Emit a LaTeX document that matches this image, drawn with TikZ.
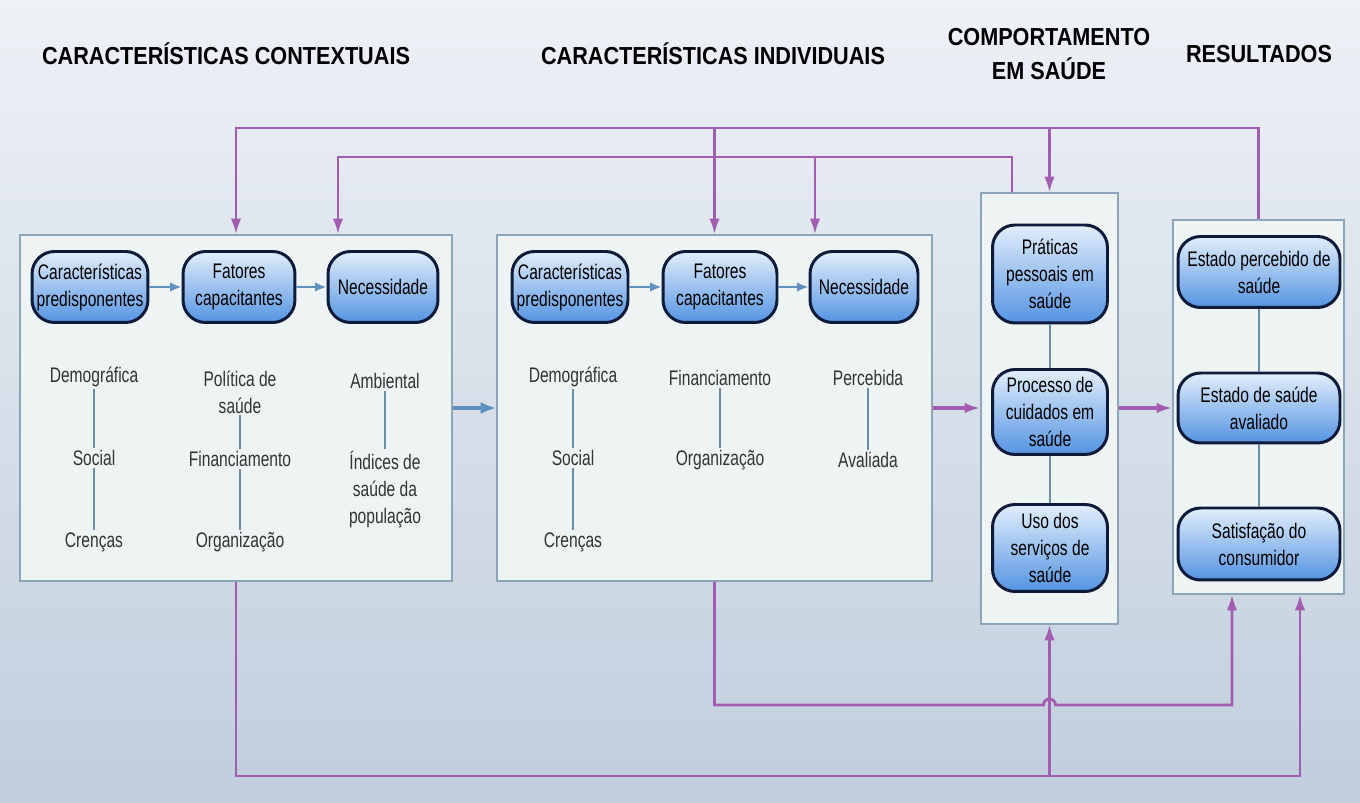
\documentclass[tikz,border=0pt]{standalone}
\usepackage{fontspec}
\setmainfont{Liberation Sans}
\newfontfamily\narrowfont[FakeStretch=0.74]{Liberation Sans}
\newfontfamily\headfont[FakeStretch=0.88]{Liberation Sans}
\usepackage{tikz}
\usetikzlibrary{positioning, arrows.meta}
\usepackage{xcolor}

\definecolor{bgtop}{RGB}{238,241,246}
\definecolor{bgbottom}{RGB}{192,206,221}
\definecolor{panelfill}{RGB}{238,244,244}
\definecolor{paneledge}{RGB}{140,165,185}
\definecolor{pilledge}{RGB}{14,26,58}
\definecolor{pilltop}{RGB}{226,238,251}
\definecolor{pillbottom}{RGB}{84,148,226}
\definecolor{flowblue}{RGB}{96,145,190}
\definecolor{linkline}{RGB}{110,140,165}
\definecolor{fbpurple}{RGB}{162,92,176}

\tikzset{
  panel/.style={draw=paneledge, fill=panelfill, line width=0.8pt, inner sep=0pt},
  pill/.style={draw=pilledge, line width=1.7pt, rounded corners=0.45cm,
    top color=pilltop, bottom color=pillbottom, align=center, inner sep=1pt,
    font=\narrowfont\fontsize{12}{15.4}\selectfont},
  item/.style={align=center, inner sep=1pt, text=black!80,
    font=\narrowfont\fontsize{12}{15.4}\selectfont},
  head/.style={align=center, font=\headfont\bfseries\fontsize{14}{19}\selectfont},
  flow/.style={draw=flowblue, line width=1.3pt, -{Latex[length=6.5pt, width=5.5pt]}},
  link/.style={draw=linkline, line width=0.6pt},
  fbarrow/.style={draw=fbpurple, line width=1.6pt, -{Latex[length=9pt, width=6pt]}}
}

\begin{document}
\begin{tikzpicture}[x=0.02cm, y=-0.02cm]
    \useasboundingbox (0,0) rectangle (1360,803);
    \fill[top color=bgtop, bottom color=bgbottom] (0,0) rectangle (1360,803);

    % headings
    \node[head] (h1) at (226,54) {CARACTERÍSTICAS CONTEXTUAIS};
    \node[head] (h2) at (713,54) {CARACTERÍSTICAS INDIVIDUAIS};
    \node[head] (h3) at (1049,54) {COMPORTAMENTO\\EM SAÚDE};
    \node[head] (h4) at (1259,54) {RESULTADOS};

    % panels
    \node[panel, minimum width=8.64cm, minimum height=6.92cm] (ctx) at (236,408) {};
    \node[panel, minimum width=8.7cm, minimum height=6.92cm] (ind) at (714.5,408) {};
    \node[panel, minimum width=2.74cm, minimum height=8.62cm] (cmp) at (1049.5,408.5) {};
    \node[panel, minimum width=3.42cm, minimum height=7.48cm] (res) at (1258.5,407) {};

    % contextual
    \node[pill, minimum width=2.32cm, minimum height=1.42cm] (cpre) at (90,287) {Características\\predisponentes};
    \node[pill, minimum width=2.24cm, minimum height=1.42cm] (ccap) at (239,287) {Fatores\\capacitantes};
    \node[pill, minimum width=2.2cm, minimum height=1.42cm] (cnec) at (383,287) {Necessidade};
    \draw[flow] (cpre) -- (ccap);
    \draw[flow] (ccap) -- (cnec);
    \node[item] (cdem) at (94,377) {Demográfica};
    \node[item] (csoc) at (94,458) {Social};
    \node[item] (ccre) at (94,542) {Crenças};
    \node[item] (cpol) at (240,392) {Política de\\saúde};
    \node[item] (cfin) at (240,459) {Financiamento};
    \node[item] (corg) at (240,542) {Organização};
    \node[item] (camb) at (385,381) {Ambiental};
    \node[item] (cidx) at (385,490) {Índices de\\saúde da\\população};
    \draw[link] (cdem) -- (csoc);
    \draw[link] (csoc) -- (ccre);
    \draw[link] (cpol) -- (cfin);
    \draw[link] (cfin) -- (corg);
    \draw[link] (camb) -- (cidx);

    % individual
    \node[pill, minimum width=2.32cm, minimum height=1.42cm] (ipre) at (570,287) {Características\\predisponentes};
    \node[pill, minimum width=2.28cm, minimum height=1.42cm] (icap) at (720,287) {Fatores\\capacitantes};
    \node[pill, minimum width=2.16cm, minimum height=1.42cm] (inec) at (864,287) {Necessidade};
    \draw[flow] (ipre) -- (icap);
    \draw[flow] (icap) -- (inec);
    \node[item] (idem) at (573,377) {Demográfica};
    \node[item] (isoc) at (573,458) {Social};
    \node[item] (icre) at (573,542) {Crenças};
    \node[item] (ifin) at (720,378) {Financiamento};
    \node[item] (iorg) at (720,460) {Organização};
    \node[item] (iper) at (868,378) {Percebida};
    \node[item] (iava) at (868,460) {Avaliada};
    \draw[link] (idem) -- (isoc);
    \draw[link] (isoc) -- (icre);
    \draw[link] (ifin) -- (iorg);
    \draw[link] (iper) -- (iava);

    % behaviour
    \node[pill, minimum width=2.3cm, minimum height=1.96cm] (bpra) at (1050,274) {Práticas\\pessoais em\\saúde};
    \node[pill, minimum width=2.3cm, minimum height=1.7cm] (bpro) at (1050,412) {Processo de\\cuidados em\\saúde};
    \node[pill, minimum width=2.3cm, minimum height=1.74cm] (buso) at (1050,548) {Uso dos\\serviços de\\saúde};
    \draw[link] (bpra) -- (bpro);
    \draw[link] (bpro) -- (buso);

    % outcomes
    \node[pill, minimum width=3.24cm, minimum height=1.42cm] (rper) at (1259,272) {Estado percebido de\\saúde};
    \node[pill, minimum width=3.24cm, minimum height=1.4cm] (rava) at (1259,408) {Estado de saúde\\avaliado};
    \node[pill, minimum width=3.24cm, minimum height=1.44cm] (rsat) at (1259,544) {Satisfação do\\consumidor};
    \draw[link] (rper) -- (rava);
    \draw[link] (rava) -- (rsat);

    % between panels
    \draw[flow, line width=1.8pt, -{Latex[length=9pt, width=7pt]}] (ctx.east) -- (ind.west);
    \draw[fbarrow, line width=2pt] (ind.east) -- (ind.east -| cmp.west);
    \draw[fbarrow, line width=2pt] (cmp.east |- ind.east) -- (ind.east -| res.west);

    % feedback loops
    \coordinate (topline) at (0,128);
    \coordinate (midline) at (0,157);
    \coordinate (hopline) at (0,705);
    \coordinate (botline) at (0,776);
    \coordinate (cmpout) at (1012,0);
    \coordinate (ctxin) at (338,0);
    \coordinate (indin) at (815,0);
    \coordinate (resin1) at (1232,0);
    \coordinate (resin2) at (1300,0);
    \coordinate (hop) at (cmp.south |- hopline);

    \draw[fbarrow] (res.north) -- (res.north |- topline) -- (ctx.north |- topline) -- (ctx.north);
    \draw[fbarrow] (ind.north |- topline) -- (ind.north);
    \draw[fbarrow] (cmp.north |- topline) -- (cmp.north);
    \draw[fbarrow] (cmp.north -| cmpout) -- (cmpout |- midline) -- (ctxin |- midline) -- (ctxin |- ctx.north);
    \draw[fbarrow] (indin |- midline) -- (indin |- ind.north);

    \draw[fbarrow] (ctx.south) -- (ctx.south |- botline) -- (resin2 |- botline) -- (resin2 |- res.south);
    \draw[fbarrow] (cmp.south |- botline) -- (cmp.south);
    \draw[fbarrow] (ind.south) -- (ind.south |- hopline) -- ([xshift=-0.12cm]hop)
        arc[start angle=180, end angle=0, radius=0.12cm] -- (resin1 |- hopline) -- (resin1 |- res.south);
\end{tikzpicture}
\end{document}
